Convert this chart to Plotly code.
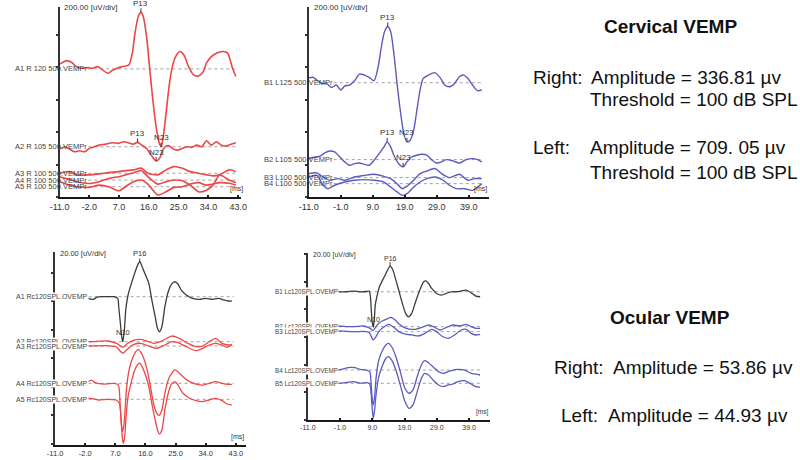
import plotly.graph_objects as go

FONT = "Liberation Sans"
RED = "#ee4646"
BLUE = "#5a5abf"
BLACK = "#3c3c3c"

# ================= DATA =================
# --- Top-left: cervical VEMP, right ear (uV vs ms, 200 uV/div) ---
cr_names = ["A1 R 120 500.VEMPr", "A2 R 105 500.VEMPr", "A3 R 100 500.VEMPr",
            "A4 R 100 500.VEMPr", "A5 R 100 500.VEMPr"]
cr_base = [790, 311, 148, 106, 65]
cr1_t = [-11.0, -10.5, -8.8, -7.4, -5.9, -4.4, -2.4, -1.0, 0.5, 2.0, 3.5, 4.9, 6.4, 7.9, 9.4, 10.0,
         11.0, 11.8, 12.8, 13.6, 14.3, 15.3, 16.2, 17.2, 18.2, 19.2, 19.7, 20.2, 21.2, 22.1, 23.1,
         24.1, 25.4, 26.6, 28.0, 29.5, 31.0, 32.5, 33.4, 34.9, 36.4, 38.4, 39.8, 41.3, 42.3]
cr1_v = [30, 35, 51, 41, 14, 4, 8, 4, 14, -6, -27, -10, 4, 14, 19, 25,
         97, 220, 323, 348, 323, 200, 14, -191, -356, -459, -479, -438, -274, -109, 14,
         76, 107, 86, 14, -37, -43, -16, 35, 76, 97, 107, 97, 4, -47]
cr2_t = [-11.0, -10.5, -9.3, -7.9, -6.4, -4.9, -3.4, -2.0, -0.5, 1.0, 3.0, 4.9, 6.9, 8.4, 9.8,
         11.3, 12.6, 13.8, 15.3, 16.7, 18.2, 19.2, 20.2, 21.2, 22.1, 23.1, 24.6, 26.1, 27.5,
         29.0, 30.5, 32.0, 33.4, 34.9, 36.4, 37.9, 39.3, 40.8, 42.3]
cr2_v = [-8, -10, 0, -16, -31, -25, -31, -10, 0, 10, 16, 25, 21, 31, 25,
         16, 27, 10, -10, -51, -88, -72, -21, 4, 6, -10, -21, -10, 0,
         -4, 10, 0, 37, 10, 31, 10, 4, 16, 25]
cr345_t = [-11.0, -7.9, -5.9, -2.0, 1.0, 3.9, 6.9, 8.9, 11.3, 13.8, 15.7, 18.7, 21.2, 23.6,
           26.1, 28.5, 31.0, 33.4, 35.4, 37.4, 40.3, 42.3]
cr3_v = [0, 10, -10, -10, -4, 4, 10, 16, 21, 31, 0, -10, 21, 41, 31, 10, 0, -10, -16, -10, 21, 10]
cr4_v = [21, 4, -10, -21, -10, 10, 21, 31, 45, 58, 21, -25, -10, 0, -4, -31, -72, -62, -31, 31, 0, -16]
cr5_v = [31, 10, 0, -4, 10, 0, -25, 0, 31, 41, 16, -51, -31, -4, 0, 16, 25, 10, 16, 25, 21, 10]

# --- Top-right: cervical VEMP, left ear ---
cl_names = ["B1 L125 500.VEMPr", "B2 L105 500.VEMPr", "B3 L100 500.VEMPr", "B4 L100 500.VEMPr"]
cl_base = [705, 232, 121, 84]
cl1_t = [-11.0, -9.6, -8.5, -7.0, -5.5, -3.9, -2.4, -1.0, 0.2, 1.7, 3.3, 4.8, 6.4, 7.9, 9.4,
         10.7, 11.7, 12.7, 13.7, 14.6, 15.6, 16.6, 17.6, 18.7, 19.7, 20.7, 21.8, 22.8, 23.8,
         24.8, 26.4, 28.4, 30.0, 31.5, 33.0, 34.6, 36.1, 37.4, 38.7, 40.2, 41.8, 43.1]
cl1_v = [30, 33, 16, -4, -4, -29, -14, -45, -21, -14, 12, 53, 47, 33, 12,
         99, 222, 315, 346, 315, 181, -4, -169, -313, -364, -354, -292, -169, -45,
         27, 47, 62, 33, -14, -25, -4, 37, 47, 27, -14, -49, -45]
cl2_t = [-11.0, -9.0, -7.5, -6.0, -4.4, -2.9, -1.3, 0.2, 1.7, 3.3, 4.8, 6.4, 7.9, 9.4, 11.0,
         12.5, 13.5, 14.6, 15.6, 17.1, 18.5, 19.7, 21.2, 22.8, 24.3, 25.9, 27.4, 28.9, 30.5,
         32.0, 34.1, 36.1, 38.2, 40.2, 41.8, 43.1]
cl2_v = [5, 16, 21, 41, 53, 47, 16, -14, -35, -25, -21, -29, -35, -4, 37,
         78, 109, 78, 27, -25, -45, -14, 16, 27, 33, 27, 0, -21, -14,
         0, -8, -21, 0, 6, 0, -14]
cl3_t = [-11.0, -8.5, -6.5, -4.4, -1.9, 0.2, 3.3, 6.4, 9.4, 12.5, 14.6, 16.6, 18.2, 19.7, 21.8,
         23.8, 25.9, 28.5, 30.5, 33.0, 36.1, 38.7, 40.7, 43.1]
cl3_v = [25, 29, 4, -16, -6, -16, 4, 14, 21, 8, -6, -37, -68, -53, -16,
         25, 41, 56, 25, 0, 21, -16, -6, -6]
cl4_t = [-11.0, -8.5, -6.5, -5.0, -2.9, 0.2, 3.3, 6.4, 9.4, 12.5, 14.6, 16.6, 18.2, 19.7, 21.8,
         23.8, 25.9, 28.5, 31.0, 33.0, 35.1, 37.7, 40.2, 43.1]
cl4_v = [41, 51, -10, -31, -10, 10, 21, 25, 21, 10, -21, -51, -72, -62, -21,
         10, 31, 41, 21, -10, -31, -31, -41, 0]

# --- Bottom-left: ocular VEMP, right (20 uV/div) ---
or_names = ["A1 Rc120SPL.OVEMP", "A2 Rc120SPL.OVEMP", "A3 Rc120SPL.OVEMP",
            "A4 Rc120SPL.OVEMP", "A5 Rc120SPL.OVEMP"]
or_base = [103.3, 71.7, 68.7, 42.5, 31.3]
or1_t = [-11.0, -6.0, -2.0, -1.1, 0.4, 1.4, 2.8, 4.8, 6.7, 7.7, 8.0, 8.5, 8.9, 9.2, 9.7, 10.1,
         10.8, 11.8, 13.1, 13.9, 14.3, 15.0, 16.0, 17.0, 17.9, 18.9, 19.6, 20.2, 20.9, 21.8,
         22.8, 23.8, 24.8, 25.7, 26.7, 28.2, 30.1, 32.1, 34.0, 36.0, 37.9, 39.4, 40.9, 41.8]
or1_v = [0, 0.5, 0, -1.2, -1.9, -0.5, 0, 0, 0, -1.2, -7.0, -18.7, -28.1, -31.6, -23.4, -9.4,
         1.2, 9.4, 18.7, 23.4, 24.6, 21.1, 15.2, 9.4, -2.3, -14.0, -22.2, -24.6, -21.1, -7.0,
         3.5, 8.9, 10.5, 8.9, 4.7, 1.2, -1.2, -1.9, -1.2, -1.9, -1.2, -2.3, -3.0, -3.0]
or2_t = [-11.0, -6.0, -1.1, 4.8, 6.7, 8.2, 9.2, 10.6, 12.6, 14.5, 16.5, 18.4, 20.4, 22.3, 23.8,
         26.2, 28.7, 31.1, 33.1, 35.0, 37.0, 38.9, 40.9, 41.8]
or2_v = [0, 0.5, 0, 0.5, -0.7, -2.3, -4.0, -1.2, 1.2, 1.6, 0.5, -1.2, 0, 2.3, 4.0,
         2.3, -1.2, -3.5, -3.0, 0, 2.3, -1.2, -2.3, -1.9]
or3_t = [-11.0, -6.0, -1.1, 4.8, 7.2, 9.2, 10.6, 12.1, 14.5, 17.5, 19.4, 21.8, 23.8, 25.7, 28.2,
         31.1, 33.1, 35.0, 37.0, 38.9, 40.4, 41.8]
or3_v = [0, 0, 0, 0.2, -0.5, -5.1, -2.3, 0.7, 1.9, -0.5, -1.6, 0.7, 3.0, 2.3, -0.5,
         -3.3, -1.6, 0.7, 1.9, 0.7, -0.9, 0.7]
or4_t = [-11.0, -6.0, -1.1, -0.1, 0.9, 3.8, 6.7, 7.9, 8.4, 8.8, 9.1, 9.5, 9.9, 10.4, 11.1, 12.1,
         13.1, 13.9, 14.5, 15.5, 16.5, 17.5, 18.4, 19.4, 20.1, 20.9, 21.8, 22.8, 23.8, 24.8,
         25.7, 27.2, 29.2, 31.1, 33.1, 35.0, 37.0, 38.9, 40.9, 41.8]
or4_v = [0, 0, 1.2, 2.3, 0.5, -0.5, 0, -1.2, -14.0, -28.1, -33.9, -30.4, -18.7, -2.3, 9.4, 17.5,
         22.2, 23.9, 22.2, 17.5, 9.4, -2.3, -14.0, -21.1, -22.5, -18.7, -7.0, 2.3, 7.0, 9.4,
         8.2, 4.7, 1.2, -0.5, -1.2, 0, 1.2, 0, -0.7, -0.7]
or5_t = [-11.0, -6.0, -0.6, 1.9, 4.8, 7.2, 8.2, 8.7, 9.1, 9.4, 9.8, 10.2, 10.8, 11.8, 12.8, 13.8,
         14.3, 15.0, 16.0, 17.0, 17.9, 18.9, 19.6, 20.2, 20.9, 21.8, 22.8, 23.8, 24.8, 25.7,
         27.2, 29.2, 31.1, 33.1, 35.0, 37.0, 38.9, 40.4, 41.8]
or5_v = [0, 0, 0.7, -0.5, 0, -0.5, -2.8, -14.5, -27.4, -30.9, -26.2, -12.2, 1.9, 12.4, 20.6, 24.8,
         25.3, 22.9, 17.1, 8.9, -2.8, -14.5, -21.5, -24.3, -21.5, -7.5, 4.2, 10.8, 12.4, 10.1,
         4.2, 0.7, -0.9, -1.6, -0.5, 0.7, -0.9, -3.3, -4.0]

# --- Bottom-right: ocular VEMP, left ---
ol_names = ["B1 Lc120SPL.OVEMP", "B2 Lc120SPL.OVEMP", "B3 Lc120SPL.OVEMP",
            "B4 Lc120SPL.OVEMP", "B5 Lc120SPL.OVEMP"]
ol_base = [92.6, 67.4, 63.8, 36.1, 26.5]
ol1_t = [-11.0, -5.0, -1.9, 1.1, 3.1, 5.2, 7.2, 8.0, 8.4, 8.7, 9.0, 9.3, 9.6, 9.9, 10.4, 11.2,
         12.7, 13.8, 14.5, 15.3, 16.3, 17.3, 18.3, 19.3, 20.2, 21.2, 22.4, 23.9, 24.9, 25.6,
         26.4, 27.4, 28.9, 30.4, 31.9, 33.5, 35.0, 36.5, 38.1, 39.6, 41.1, 42.4]
ol1_v = [0, 0, 0, 0, 0.5, 0, 0.2, 0.5, -3.6, -14.4, -22.9, -25.5, -20.5, -9.6, -3.6, 3.6,
         10.8, 16.1, 18.5, 16.1, 8.4, 0, -8.4, -15.6, -18.1, -15.6, -7.2, 2.4, 7.2, 7.9,
         6.0, 2.4, -1.2, -2.4, -1.2, 0, 0, 0.5, 1.2, -0.7, -3.1, -3.6]
ol2_t = [-11.0, -5.0, -1.9, 3.1, 6.2, 7.7, 8.7, 9.2, 10.0, 11.0, 12.2, 13.7, 14.7, 15.8, 17.3,
         18.8, 20.4, 22.4, 24.4, 26.4, 28.0, 30.0, 32.0, 34.0, 36.1, 38.1, 39.6, 41.1, 42.4]
ol2_v = [0, 0.5, 0.5, 0, 0.5, -0.5, -1.9, -2.9, -0.5, 2.4, 4.3, 5.8, 6.7, 5.3, 1.9,
         -0.5, -1.7, -1.9, -0.5, 1.2, 0, -2.4, -0.5, 1.2, 0.5, 1.7, 0, -1.2, -1.2]
ol3_t = [-11.0, -5.0, -1.9, 3.1, 7.2, 8.2, 8.7, 9.2, 10.0, 11.2, 12.7, 14.1, 15.7, 17.2, 19.2,
         21.3, 23.3, 25.3, 27.3, 28.9, 30.5, 32.5, 34.5, 36.5, 38.1, 39.6, 41.1, 42.4]
ol3_v = [0, 0, 0.5, 0, 0, -1.2, -3.6, -6.0, -4.1, 0.7, 3.6, 5.3, 3.1, 0, -1.7,
         -2.4, -3.1, -1.2, 1.7, 0, -3.1, -4.8, -2.4, 1.2, 1.7, -1.2, -2.4, -1.9]
ol4_t = [-11.0, -6.0, -1.4, 0.6, 2.1, 3.6, 5.2, 7.2, 8.2, 8.6, 9.0, 9.3, 9.7, 10.2, 11.0, 12.2,
         13.2, 14.0, 15.0, 16.3, 17.8, 19.1, 20.4, 21.6, 22.9, 24.2, 25.2, 26.4, 28.0, 29.5,
         31.0, 32.5, 34.0, 35.5, 37.6, 39.6, 41.1, 42.4]
ol4_v = [0, 0, 0, 1.2, 1.9, 1.7, 0.5, 0, -1.2, -9.6, -21.7, -25.3, -19.3, -4.8, 7.2, 14.4,
         18.1, 19.3, 16.8, 9.6, -2.4, -13.2, -16.8, -14.4, -4.8, 3.6, 6.7, 5.3, 1.9, -1.2,
         -2.4, -1.2, 0, 0.5, 0, -2.4, -2.9, -3.6]
ol5_t = [-11.0, -6.0, -1.4, 0.6, 3.1, 5.2, 7.2, 8.2, 8.6, 9.0, 9.3, 9.7, 10.2, 11.0, 12.2, 13.2,
         14.0, 15.0, 16.3, 17.8, 19.1, 20.4, 21.6, 22.9, 24.2, 25.2, 26.4, 28.0, 29.5, 31.0,
         32.5, 34.0, 35.5, 37.6, 39.6, 41.1, 42.4]
ol5_v = [0, 0, 0, 0.5, 1.2, 0, 0.5, -0.5, -7.2, -19.3, -25.3, -19.3, -7.2, 4.8, 13.2, 18.1,
         19.3, 16.8, 9.6, -2.4, -13.2, -18.1, -15.6, -6.0, 3.6, 7.2, 6.0, 1.9, -1.2, -2.4,
         -1.2, -0.5, 1.2, 1.9, -0.5, -2.4, -2.9]

# tick labels
xt_a = [-11, -2, 7, 16, 25, 34, 43]
xt_b = [-11, -1, 9, 19, 29, 39]

# summary text
cerv_title = "Cervical VEMP"
cerv_right_amp = "Amplitude = 336.81 µv"
cerv_right_thr = "Threshold = 100 dB SPL"
cerv_left_amp = "Amplitude = 709. 05 µv"
cerv_left_thr = "Threshold = 100 dB SPL"
ocu_title = "Ocular VEMP"
ocu_right_amp = "Amplitude = 53.86 µv"
ocu_left_amp = "Amplitude = 44.93 µv"

# ================= FIGURE =================
fig = go.Figure()
annots = []


def panel(n, ts, vs, bases, names, colors, width, lab_end, dot_end, lab_fs, lab_bg):
    xa, ya = ("x", "y") if n == 1 else (f"x{n}", f"y{n}")
    for b in bases:
        fig.add_trace(go.Scatter(x=[lab_end, dot_end], y=[b, b], mode="lines",
                                 line=dict(color="#a0a0a0", width=1, dash="dot"),
                                 xaxis=xa, yaxis=ya, hoverinfo="skip", showlegend=False))
    for t, v, b, c in zip(ts, vs, bases, colors):
        assert len(t) == len(v), (n, len(t), len(v))
        fig.add_trace(go.Scatter(x=t, y=[b + s for s in v], mode="lines",
                                 line=dict(color=c, width=width, shape="spline", smoothing=0.7),
                                 xaxis=xa, yaxis=ya, hoverinfo="skip", showlegend=False))
    for b, name in zip(bases, names):
        annots.append(dict(x=lab_end, y=b, xref=xa, yref=ya, text=name, showarrow=False,
                           xanchor="right", yanchor="middle", borderpad=0,
                           bgcolor=lab_bg, font=dict(family=FONT, size=lab_fs, color="#444")))


def pick(t, v, lo, hi, sign):
    idx = [i for i in range(len(t)) if lo <= t[i] <= hi]
    i = max(idx, key=lambda k: sign * v[k])
    return t[i], v[i]


def mark(n, text, t, v, base, lo, hi, sign, ay=-9, fs=8):
    xa, ya = ("x", "y") if n == 1 else (f"x{n}", f"y{n}")
    px, pv = pick(t, v, lo, hi, sign)
    annots.append(dict(x=px, y=base + pv, xref=xa, yref=ya, text=text, showarrow=True,
                       ax=0, ay=ay, arrowhead=0, arrowwidth=1, arrowcolor="#333",
                       borderpad=0, standoff=0,
                       font=dict(family=FONT, size=fs, color="#333")))


panel(1, [cr1_t, cr2_t, cr345_t, cr345_t, cr345_t], [cr1_v, cr2_v, cr3_v, cr4_v, cr5_v],
      cr_base, cr_names, [RED] * 5, 1.6, -2.3, 43.0, 7.5, "rgba(0,0,0,0)")
panel(2, [cl1_t, cl2_t, cl3_t, cl4_t], [cl1_v, cl2_v, cl3_v, cl4_v],
      cl_base, cl_names, [BLUE] * 4, 1.4, -3.2, 43.4, 7.5, "rgba(0,0,0,0)")
panel(3, [or1_t, or2_t, or3_t, or4_t, or5_t], [or1_v, or2_v, or3_v, or4_v, or5_v],
      or_base, or_names, [BLACK] + [RED] * 4, 1.3, -1.0, 42.4, 7, "white")
panel(4, [ol1_t, ol2_t, ol3_t, ol4_t, ol5_t], [ol1_v, ol2_v, ol3_v, ol4_v, ol5_v],
      ol_base, ol_names, [BLACK] + [BLUE] * 4, 1.3, -1.4, 42.4, 6.3, "white")

mark(1, "P13", cr1_t, cr1_v, cr_base[0], 10, 16, 1)
mark(1, "N23", cr1_t, cr1_v, cr_base[0], 17, 22, -1)
mark(1, "P13", cr2_t, cr2_v, cr_base[1], 10, 15, 1)
mark(1, "N23", cr2_t, cr2_v, cr_base[1], 16, 21, -1)
mark(2, "P13", cl1_t, cl1_v, cl_base[0], 10, 16, 1)
mark(2, "N23", cl1_t, cl1_v, cl_base[0], 17, 22, -1)
mark(2, "P13", cl2_t, cl2_v, cl_base[1], 10, 16, 1)
mark(2, "N23", cl2_t, cl2_v, cl_base[1], 16, 21, -1)
mark(3, "P16", or1_t, or1_v, or_base[0], 12, 17, 1, ay=-8, fs=7.5)
mark(3, "N10", or1_t, or1_v, or_base[0], 7, 11, -1, ay=-9, fs=7.5)
mark(4, "P16", ol1_t, ol1_v, ol_base[0], 12, 17, 1, ay=-8, fs=7)
mark(4, "N10", ol1_t, ol1_v, ol_base[0], 7, 11, -1, ay=-8, fs=7)


def xax(domain, rng, ticks, fs, anchor):
    return dict(domain=domain, range=rng, tickmode="array", tickvals=ticks,
                ticktext=[f"{v:.1f}" for v in ticks], showline=True, linecolor="#1a1a1a",
                linewidth=2, ticks="inside", ticklen=2, tickwidth=1.5, tickcolor="#1a1a1a",
                ticklabelstandoff=0,
                showgrid=False, zeroline=False, anchor=anchor, fixedrange=True,
                tickfont=dict(family=FONT, size=fs, color="#333"))


def yax(domain, rng, dtick, anchor):
    return dict(domain=domain, range=rng, tickmode="linear", tick0=0, dtick=dtick,
                showticklabels=False, showline=True, linecolor="#333", linewidth=2,
                ticks="outside", ticklen=2, tickwidth=2, tickcolor="#333",
                showgrid=False, zeroline=False, anchor=anchor, fixedrange=True)


W, H = 800, 460


def dx(a, b):
    return [a / W, b / W]


def dy(bottom_px, top_px):
    return [1 - bottom_px / H, 1 - top_px / H]


fig.update_layout(
    width=W, height=H, margin=dict(l=0, r=0, t=0, b=0),
    paper_bgcolor="white", plot_bgcolor="white", showlegend=False,
    xaxis=xax(dx(50.5, 235.9), [-11, 44], xt_a, 9, "y"),
    yaxis=yax(dy(197.3, 7), [0, 1171], 200, "x"),
    xaxis2=xax(dx(304.5, 488.3), [-11, 45.4], xt_b, 9, "y2"),
    yaxis2=yax(dy(197.3, 7), [0, 1171], 200, "x2"),
    xaxis3=xax(dx(46, 240), [-11, 45.9], xt_a, 7.5, "y3"),
    yaxis3=yax(dy(445.3, 251.7), [-1, 134.9], 20, "x3"),
    xaxis4=xax(dx(303.5, 489.3), [-11, 45.5], xt_b, 7, "y4"),
    yaxis4=yax(dy(420, 253), [0, 120.6], 20, "x4"),
)

# axis captions
for n, txt_, fs, xs, ys in [(1, "200.00 [uV/div]", 8, 2, 0), (2, "200.00 [uV/div]", 8, 3, 0),
                            (3, "20.00 [uV/div]", 7.5, 3, -1.5), (4, "20.00 [uV/div]", 7, 3, -1.5)]:
    sfx = "" if n == 1 else str(n)
    annots.append(dict(x=0, y=1, xref=f"x{sfx} domain", yref=f"y{sfx} domain", text=txt_,
                       showarrow=False, xanchor="left", yanchor="middle", xshift=xs, yshift=ys,
                       font=dict(family=FONT, size=fs, color="#333")))
for n, fs, xs in [(1, 7, 4), (2, 7, 0), (3, 7, 0), (4, 6.5, 0)]:
    sfx = "" if n == 1 else str(n)
    annots.append(dict(x=1, y=0, xref=f"x{sfx} domain", yref=f"y{sfx} domain", text="[ms]",
                       showarrow=False, xanchor="right", yanchor="bottom", xshift=xs, yshift=2,
                       font=dict(family=FONT, size=fs, color="#333")))


def txt(x_px, y_px, s, anchor="left", bold=False, size=19):
    annots.append(dict(x=x_px / W, y=1 - y_px / H, xref="paper", yref="paper",
                       text=f"<b>{s}</b>" if bold else s, showarrow=False,
                       xanchor=anchor, yanchor="middle", borderpad=0,
                       font=dict(family=FONT, size=size, color="#111")))


txt(673, 27, cerv_title, "center", True)
txt(532, 77, "Right:")
txt(591, 77, cerv_right_amp)
txt(590, 100, cerv_right_thr)
txt(532, 148, "Left:")
txt(590, 148, cerv_left_amp)
txt(590, 173, cerv_left_thr)
txt(673, 317, ocu_title, "center", True)
txt(553, 367, "Right:")
txt(613, 367, ocu_right_amp)
txt(560, 415, "Left:")
txt(608, 415, ocu_left_amp)

fig.update_layout(annotations=annots)
fig.write_html("out.html", config={"displayModeBar": False},
               post_script="document.body.style.margin='0px';document.body.style.overflow='hidden';")
